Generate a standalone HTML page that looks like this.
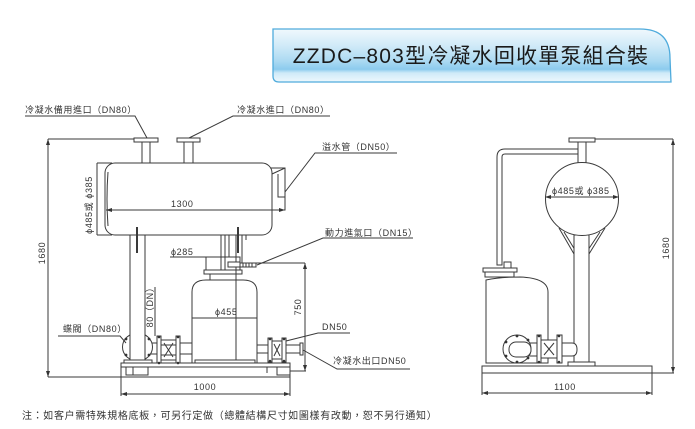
<!DOCTYPE html>
<html><head><meta charset="utf-8"><style>
html,body{margin:0;padding:0;background:#fff;}
svg{display:block;}
text{font-family:"Liberation Sans","Noto Sans CJK TC",sans-serif;fill:#333;}
</style></head><body>
<svg width="695" height="429" viewBox="0 0 695 429" xmlns="http://www.w3.org/2000/svg">
<defs>
<linearGradient id="bg" x1="0" y1="0" x2="0" y2="1">
<stop offset="0" stop-color="#f0f8fd"/>
<stop offset="0.3" stop-color="#d2ebf8"/>
<stop offset="0.6" stop-color="#acdaf2"/>
<stop offset="0.76" stop-color="#8ccbee"/>
<stop offset="0.83" stop-color="#cfeaf8"/>
<stop offset="1" stop-color="#eef8fd"/>
</linearGradient>
<marker id="ar" markerWidth="6" markerHeight="4" refX="6" refY="2" orient="auto-start-reverse" markerUnits="userSpaceOnUse">
<path d="M0,0 L6,2 L0,4z" fill="#333"/>
</marker>
</defs>

<!-- Title banner -->
<path d="M273,29 L640,29 Q670,29 670,58 L671,82 L279,82 Q273,82 273,76 Z" fill="url(#bg)" stroke="#4fabdc" stroke-width="1.3"/>
<text x="471" y="63" text-anchor="middle" font-size="21" letter-spacing="1.2" style="fill:#1a1a1a">ZZDC–803型冷凝水回收單泵組合裝</text>

<g stroke="#3a3a3a" stroke-width="1" fill="none">
<!-- ===== LEFT DRAWING ===== -->
<polyline points="25,116 135,116 147,138"/>
<polyline points="330,116 233,116 189,138"/>
<line x1="48" y1="139" x2="134" y2="139"/>
<line x1="48" y1="139" x2="48" y2="377" marker-start="url(#ar)" marker-end="url(#ar)"/>
<line x1="48" y1="377" x2="121" y2="377"/>
<line x1="97" y1="163" x2="112" y2="163"/>
<line x1="97" y1="235" x2="112" y2="235"/>
<line x1="97" y1="163" x2="97" y2="235"/>

<rect x="142" y="141" width="8" height="23" fill="#fff"/>
<rect x="134" y="138" width="24" height="4" fill="#fff"/>
<rect x="184" y="141" width="9" height="23" fill="#fff"/>
<rect x="177" y="138" width="23" height="4" fill="#fff"/>

<rect x="270" y="168" width="15" height="42" fill="#fff"/>
<rect x="105" y="163" width="167" height="72" rx="10" fill="#fff"/>
<path d="M108,172 Q106,199 108,226"/>
<path d="M272,174 L285,168 M278,174 L278,197 L285,197"/>
<polyline points="397,153 315,153 285,192"/>
<line x1="106" y1="210" x2="285" y2="210" marker-start="url(#ar)" marker-end="url(#ar)"/>

<line x1="137" y1="227" x2="137" y2="253" stroke-width="2"/>
<line x1="221" y1="235" x2="221" y2="257"/>
<line x1="225" y1="235" x2="225" y2="257"/>
<line x1="229" y1="235" x2="229" y2="257"/>
<line x1="238" y1="227" x2="238" y2="253" stroke-width="2"/>
<line x1="242" y1="235" x2="242" y2="263"/>
<line x1="246" y1="235" x2="246" y2="240"/>

<line x1="242" y1="263" x2="305" y2="263"/>
<line x1="305" y1="263" x2="305" y2="371" marker-start="url(#ar)" marker-end="url(#ar)"/>
<line x1="290" y1="371" x2="306" y2="371"/>

<rect x="145" y="343" width="48" height="11" fill="#fff"/>
<ellipse cx="137.5" cy="347" rx="15" ry="14" fill="#fff"/>
<rect x="130" y="235" width="15" height="125" fill="#fff"/>
<line x1="137" y1="235" x2="137" y2="253" stroke-width="2"/>
<rect x="124" y="360" width="28" height="3" fill="#fff"/>

<rect x="157" y="336" width="4" height="28" fill="#fff"/>
<rect x="176" y="336" width="4" height="28" fill="#fff"/>
<rect x="161" y="340" width="15" height="20" fill="#fff"/>
<path d="M164,343 L173,357 M173,343 L164,357"/>
<line x1="161" y1="345" x2="176" y2="345"/>
<line x1="161" y1="355" x2="176" y2="355"/>

<path d="M192,363 L192,292 Q192,280 206,280 L243,280 Q257,280 257,292 L257,363 Z" fill="#fff"/>
<rect x="210" y="274" width="26" height="6" fill="#fff"/>
<rect x="204" y="270" width="38" height="4" fill="#fff"/>
<rect x="206" y="257" width="34" height="13" fill="#fff"/>
<line x1="221" y1="257" x2="221" y2="270"/>
<line x1="225" y1="257" x2="225" y2="270"/>
<line x1="236" y1="235" x2="236" y2="362"/>
<rect x="228" y="262" width="12" height="5" fill="#fff"/>
<rect x="240" y="263" width="16" height="4" fill="#fff"/>
<path d="M243,263 L243,267 M246,263 L246,267 M249,263 L249,267 M252,263 L252,267"/>
<polyline points="413,238 323,238 257,265"/>
<line x1="170" y1="257" x2="206" y2="257"/>
<line x1="192" y1="318" x2="257" y2="318"/>
<rect x="195" y="360" width="60" height="3" fill="#fff"/>

<line x1="155" y1="287" x2="155" y2="336"/>
<polyline points="58,336 120,336 126,343"/>

<rect x="257" y="345" width="44" height="8" fill="#fff"/>
<rect x="300" y="343" width="3" height="12" fill="#fff"/>
<rect x="268" y="338" width="4" height="24" fill="#fff"/>
<rect x="282" y="338" width="4" height="24" fill="#fff"/>
<rect x="272" y="341" width="10" height="18" fill="#fff"/>
<path d="M274,344 L280,356 M280,344 L274,356"/>
<polyline points="350,333 318,333 286,341"/>
<polyline points="410,369 337,369 303,350"/>

<rect x="121" y="363" width="169" height="4" fill="#fff"/>
<rect x="121" y="367" width="169" height="10" fill="#fff"/>
<path d="M126,367 L126,375 L148,375 L148,367 M133,367 L133,375 M267,367 L267,373 M277,367 L277,375 L290,375"/>
<line x1="121" y1="377" x2="121" y2="396"/>
<line x1="290" y1="377" x2="290" y2="396"/>
<line x1="121" y1="394" x2="290" y2="394" marker-start="url(#ar)" marker-end="url(#ar)"/>

<!-- ===== RIGHT DRAWING ===== -->
<line x1="595" y1="139" x2="673" y2="139"/>
<line x1="673" y1="139" x2="673" y2="373" marker-start="url(#ar)" marker-end="url(#ar)"/>
<line x1="652" y1="373" x2="674" y2="373"/>

<path d="M578,149 L505,149 Q497,149 497,157 L497,265 L502,265 L502,157 Q502,154 505,154 L578,154" fill="#fff"/>
<rect x="578" y="141" width="8" height="23" fill="#fff"/>
<rect x="569" y="138" width="26" height="4" fill="#fff"/>

<path d="M559,228 L574,254 M564,232 L575,250 M605,228 L589,254 M600,232 L588,250"/>
<rect x="574" y="235" width="15" height="128" fill="#fff"/>
<rect x="568" y="362" width="27" height="4" fill="#fff"/>
<circle cx="582" cy="199" r="36.5" fill="#fff"/>
<line x1="545" y1="197" x2="619" y2="197" marker-start="url(#ar)" marker-end="url(#ar)"/>

<path d="M486,363 L486,280 Q500,277 520,277 Q548,278 548,292 L548,363 Z" fill="#fff"/>
<rect x="485" y="272" width="29" height="5" fill="#fff"/>
<rect x="483" y="268" width="34" height="4" fill="#fff"/>
<rect x="504" y="262" width="7" height="6" fill="#fff"/>
<path d="M530,343 L572,343 Q577,343 577,349.5 Q577,356 572,356 L530,356" fill="#fff"/>
<circle cx="517" cy="349" r="14" fill="#fff"/>
<rect x="509" y="342" width="22" height="15" rx="7" fill="#fff"/>
<rect x="537" y="335" width="4" height="28" fill="#fff"/>
<rect x="557" y="335" width="5" height="28" fill="#fff"/>
<rect x="541" y="340" width="16" height="18" fill="#fff"/>
<path d="M544,343 L554,355 M554,343 L544,355"/>

<rect x="482" y="366" width="170" height="7" fill="#fff"/>
<line x1="482" y1="373" x2="482" y2="395"/>
<line x1="652" y1="373" x2="652" y2="395"/>
<line x1="482" y1="393" x2="652" y2="393" marker-start="url(#ar)" marker-end="url(#ar)"/>
</g>

<g fill="#333">
<circle cx="126" cy="339" r="1.4"/><circle cx="126" cy="355" r="1.4"/>
<circle cx="149" cy="339" r="1.4"/><circle cx="149" cy="355" r="1.4"/>
<circle cx="159" cy="337" r="1.3"/><circle cx="178" cy="337" r="1.3"/>
<circle cx="159" cy="363" r="1.3"/><circle cx="178" cy="363" r="1.3"/>
<circle cx="270" cy="339" r="1.3"/><circle cx="284" cy="339" r="1.3"/>
<circle cx="270" cy="361" r="1.3"/><circle cx="284" cy="361" r="1.3"/>
<circle cx="517" cy="336" r="1.4"/><circle cx="517" cy="362" r="1.4"/>
<circle cx="506" cy="342" r="1.4"/><circle cx="506" cy="356" r="1.4"/>
<circle cx="528" cy="340" r="1.4"/><circle cx="528" cy="358" r="1.4"/>
<circle cx="539" cy="336" r="1.3"/><circle cx="559" cy="336" r="1.3"/>
<circle cx="539" cy="362" r="1.3"/><circle cx="559" cy="362" r="1.3"/>
</g>

<g font-size="9" letter-spacing="0.6">
<text x="25" y="113">冷凝水備用進口（DN80）</text>
<text x="237" y="113">冷凝水進口（DN80）</text>
<text x="322" y="150">溢水管（DN50）</text>
<text x="171" y="207">1300</text>
<text transform="translate(92,205) rotate(-90)" text-anchor="middle">ϕ485或 ϕ385</text>
<text transform="translate(45,253) rotate(-90)" text-anchor="middle">1680</text>
<text x="325" y="236">動力進氣口（DN15）</text>
<text x="171" y="255">ϕ285</text>
<text x="215" y="315">ϕ455</text>
<text transform="translate(301,307) rotate(-90)" text-anchor="middle">750</text>
<text transform="translate(153,305) rotate(-90)" text-anchor="middle">80（DN）</text>
<text x="63" y="332">蝶閥（DN80）</text>
<text x="322" y="330">DN50</text>
<text x="333" y="364">冷凝水出口DN50</text>
<text x="205" y="390" text-anchor="middle">1000</text>
<text x="552" y="194">ϕ485或 ϕ385</text>
<text transform="translate(669,248) rotate(-90)" text-anchor="middle">1680</text>
<text x="565" y="390" text-anchor="middle">1100</text>
</g>

<text x="22" y="419" font-size="10" letter-spacing="0.65">注：如客户需特殊規格底板，可另行定做（總體結構尺寸如圖樣有改動，恕不另行通知）</text>
</svg>
</body></html>
